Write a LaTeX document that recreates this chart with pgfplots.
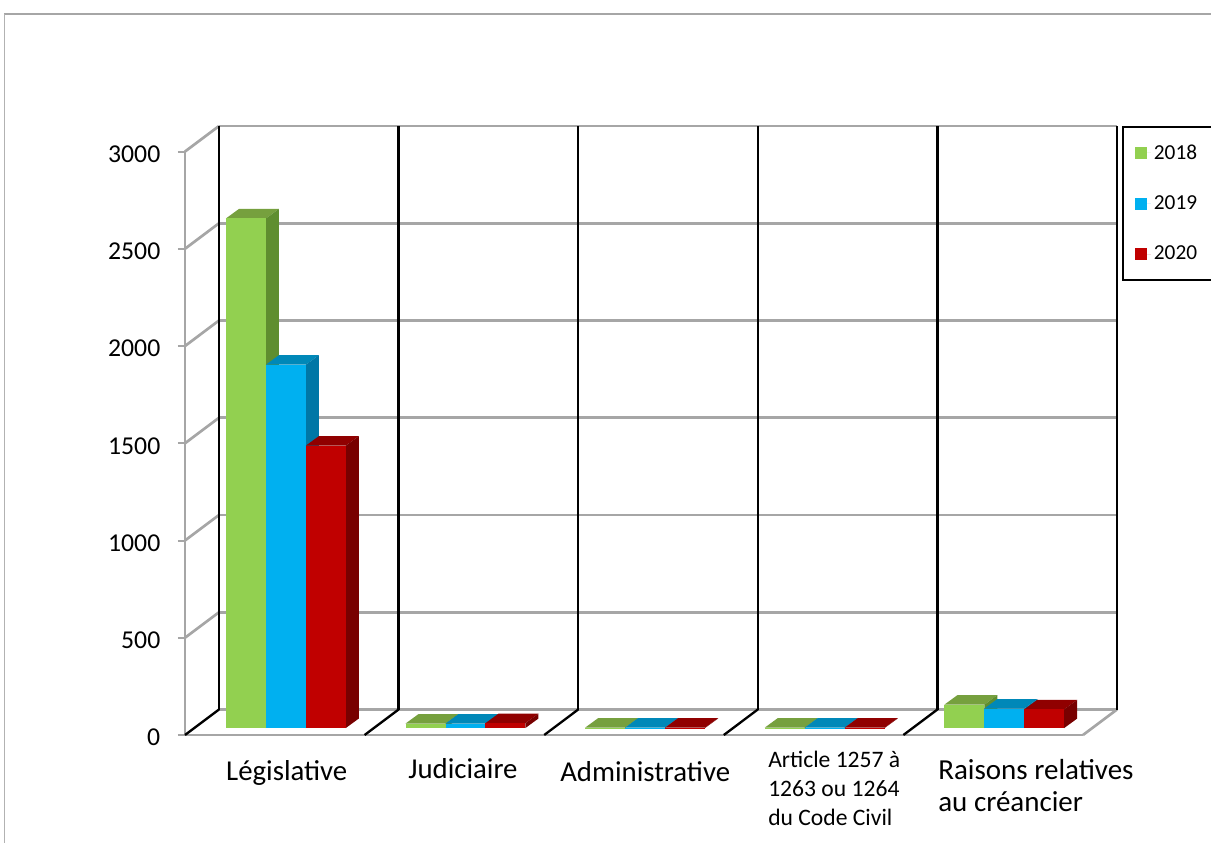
\documentclass[border=0pt]{standalone}
\usepackage{fontspec}
\setmainfont{Carlito}
\usepackage{pgfplots}
\pgfplotsset{compat=1.18}

\definecolor{gfront}{HTML}{92D050}
\definecolor{gtop}{HTML}{76A03E}
\definecolor{gside}{HTML}{5F8E2F}
\definecolor{bfront}{HTML}{00B0F0}
\definecolor{btop}{HTML}{0088B8}
\definecolor{bside}{HTML}{0077A6}
\definecolor{rfront}{HTML}{C00000}
\definecolor{rtop}{HTML}{900000}
\definecolor{rside}{HTML}{780000}
\definecolor{wallgray}{HTML}{A6A6A6}

% 3D-looking bar: category, series index, value, colour prefix
\newcommand{\tdbar}[4]{%
  \pgfmathsetmacro\xL{#1+0.228+#2*0.2225}%
  \pgfmathsetmacro\xR{\xL+0.2225}%
  \pgfmathsetmacro\xLb{\xL+0.0724}%
  \pgfmathsetmacro\xRb{\xR+0.0724}%
  \pgfmathsetmacro\yT{36+#3}%
  \pgfmathsetmacro\yTb{\yT+48.8}%
  \edef\tmp{%
    \noexpand\addplot[fill=#4top,draw=none,forget plot] coordinates {(\xL,\yT) (\xR,\yT) (\xRb,\yTb) (\xLb,\yTb)} -- cycle;
    \noexpand\addplot[fill=#4side,draw=none,forget plot] coordinates {(\xR,36) (\xRb,84.8) (\xRb,\yTb) (\xR,\yT)} -- cycle;
    \noexpand\addplot[fill=#4front,draw=none,forget plot] coordinates {(\xL,36) (\xR,36) (\xR,\yT) (\xL,\yT)} -- cycle;
  }\tmp}

\begin{document}
\begin{tikzpicture}
\useasboundingbox (0,0) rectangle (908.25pt,-632.25pt);
\fill[white] (0,0) rectangle (908.25pt,-632.25pt);
\draw[wallgray, line width=1.5pt] (3pt,-10.5pt) -- (908.25pt,-10.5pt);
\draw[gray!60, line width=0.6pt] (3pt,-10.5pt) -- (3pt,-632.25pt);
\begin{axis}[
  at={(138.75pt,-551.25pt)}, anchor=south west,
  scale only axis, width=673.5pt, height=437.6pt,
  xmin=0, xmax=5, ymin=0, ymax=3000,
  clip=false,
  axis line style={draw=none},
  tick pos=left,
  tick align=outside,
  major tick length=5.25pt,
  ytick={0,500,...,3000},
  ytick style={draw=wallgray, line width=1.5pt},
  xtick style={draw=none},
  /pgf/number format/assume math mode=true,
  /pgf/number format/1000 sep={},
  yticklabel style={font=\fontsize{19.3}{22}\selectfont, yshift=-2pt, xshift=-9.75pt},
  xtick={0.228,1.242,2.088,3.246,4.193},
  xticklabels={
    {\fontsize{21.6}{26}\selectfont Législative},
    {\fontsize{21.6}{26}\selectfont\raisebox{1.5pt}{Judiciaire}},
    {\fontsize{21.6}{26}\selectfont\raisebox{-0.75pt}{Administrative}},
    {\fontsize{17.7}{21.9}\selectfont\raisebox{9.75pt}{\begin{tabular}[t]{@{}l@{}}Article 1257 à\\1263 ou 1264\\du Code Civil\end{tabular}}},
    {\fontsize{21.75}{24.3}\selectfont\raisebox{0.75pt}{\begin{tabular}[t]{@{}l@{}}Raisons relatives\\au créancier\end{tabular}}}
  },
  xticklabel style={anchor=base west, inner sep=0pt, yshift=-28.5pt},
  legend style={at={(axis description cs:1.0434,1.0437)}, anchor=north west,
    draw=black, line width=1.5pt, font=\fontsize{16}{18}\selectfont,
    row sep=21.5pt, inner xsep=9pt, inner ysep=11pt,
    nodes={inner sep=2.2pt}, cells={anchor=west}},
  legend image code/.code={\path (0pt,0pt) -- (12pt,0pt);\fill[#1] (0pt,-4.5pt) rectangle (9pt,4.5pt);},
]
% back wall gridlines
\addplot[wallgray, line width=2pt, forget plot] coordinates {(0.189,131) (5.189,131)};
\addplot[wallgray, line width=2pt, forget plot] coordinates {(0.189,631) (5.189,631)};
\addplot[wallgray, line width=2pt, forget plot] coordinates {(0.189,1131) (5.189,1131)};
\addplot[wallgray, line width=2pt, forget plot] coordinates {(0.189,1631) (5.189,1631)};
\addplot[wallgray, line width=2pt, forget plot] coordinates {(0.189,2131) (5.189,2131)};
\addplot[wallgray, line width=2pt, forget plot] coordinates {(0.189,2631) (5.189,2631)};
\addplot[wallgray, line width=2pt, forget plot] coordinates {(0.189,3131) (5.189,3131)};
% left wall gridlines
\addplot[wallgray, line width=2pt, forget plot] coordinates {(0,500) (0.189,631)};
\addplot[wallgray, line width=2pt, forget plot] coordinates {(0,1000) (0.189,1131)};
\addplot[wallgray, line width=2pt, forget plot] coordinates {(0,1500) (0.189,1631)};
\addplot[wallgray, line width=2pt, forget plot] coordinates {(0,2000) (0.189,2131)};
\addplot[wallgray, line width=2pt, forget plot] coordinates {(0,2500) (0.189,2631)};
\addplot[wallgray, line width=2pt, forget plot] coordinates {(0,3000) (0.189,3131)};
% front vertical axis and front floor edge
\addplot[wallgray, line width=2pt, forget plot] coordinates {(0,0) (0,3000)};
\addplot[wallgray, line width=2pt, forget plot] coordinates {(0,0) (5,0)};
\addplot[wallgray, line width=2pt, forget plot] coordinates {(5,0) (5.189,131)};
% back wall verticals (black)
\addplot[black, line width=1.75pt, forget plot] coordinates {(0.189,131) (0.189,3131)};
\addplot[black, line width=1.75pt, forget plot] coordinates {(1.189,131) (1.189,3131)};
\addplot[black, line width=1.75pt, forget plot] coordinates {(2.189,131) (2.189,3131)};
\addplot[black, line width=1.75pt, forget plot] coordinates {(3.189,131) (3.189,3131)};
\addplot[black, line width=1.75pt, forget plot] coordinates {(4.189,131) (4.189,3131)};
\addplot[black, line width=1.75pt, forget plot] coordinates {(5.189,131) (5.189,3131)};
% floor diagonals (black)
\addplot[black, line width=1.75pt, forget plot] coordinates {(0,0) (0.189,131)};
\addplot[black, line width=1.75pt, forget plot] coordinates {(1,0) (1.189,131)};
\addplot[black, line width=1.75pt, forget plot] coordinates {(2,0) (2.189,131)};
\addplot[black, line width=1.75pt, forget plot] coordinates {(3,0) (3.189,131)};
\addplot[black, line width=1.75pt, forget plot] coordinates {(4,0) (4.189,131)};
% bars: Législative, Judiciaire, Administrative, Article..., Raisons...
\tdbar{0}{0}{2620}{g}\tdbar{0}{1}{1868}{b}\tdbar{0}{2}{1452}{r}
\tdbar{1}{0}{23}{g}\tdbar{1}{1}{23}{b}\tdbar{1}{2}{25}{r}
\tdbar{2}{0}{2}{g}\tdbar{2}{1}{2}{b}\tdbar{2}{2}{2}{r}
\tdbar{3}{0}{2}{g}\tdbar{3}{1}{2}{b}\tdbar{3}{2}{2}{r}
\tdbar{4}{0}{120}{g}\tdbar{4}{1}{100}{b}\tdbar{4}{2}{96}{r}
% legend
\addlegendimage{fill=gfront, draw=none}\addlegendentry{2018}
\addlegendimage{fill=bfront, draw=none}\addlegendentry{2019}
\addlegendimage{fill=rfront, draw=none}\addlegendentry{2020}
\end{axis}
\end{tikzpicture}
\end{document}
